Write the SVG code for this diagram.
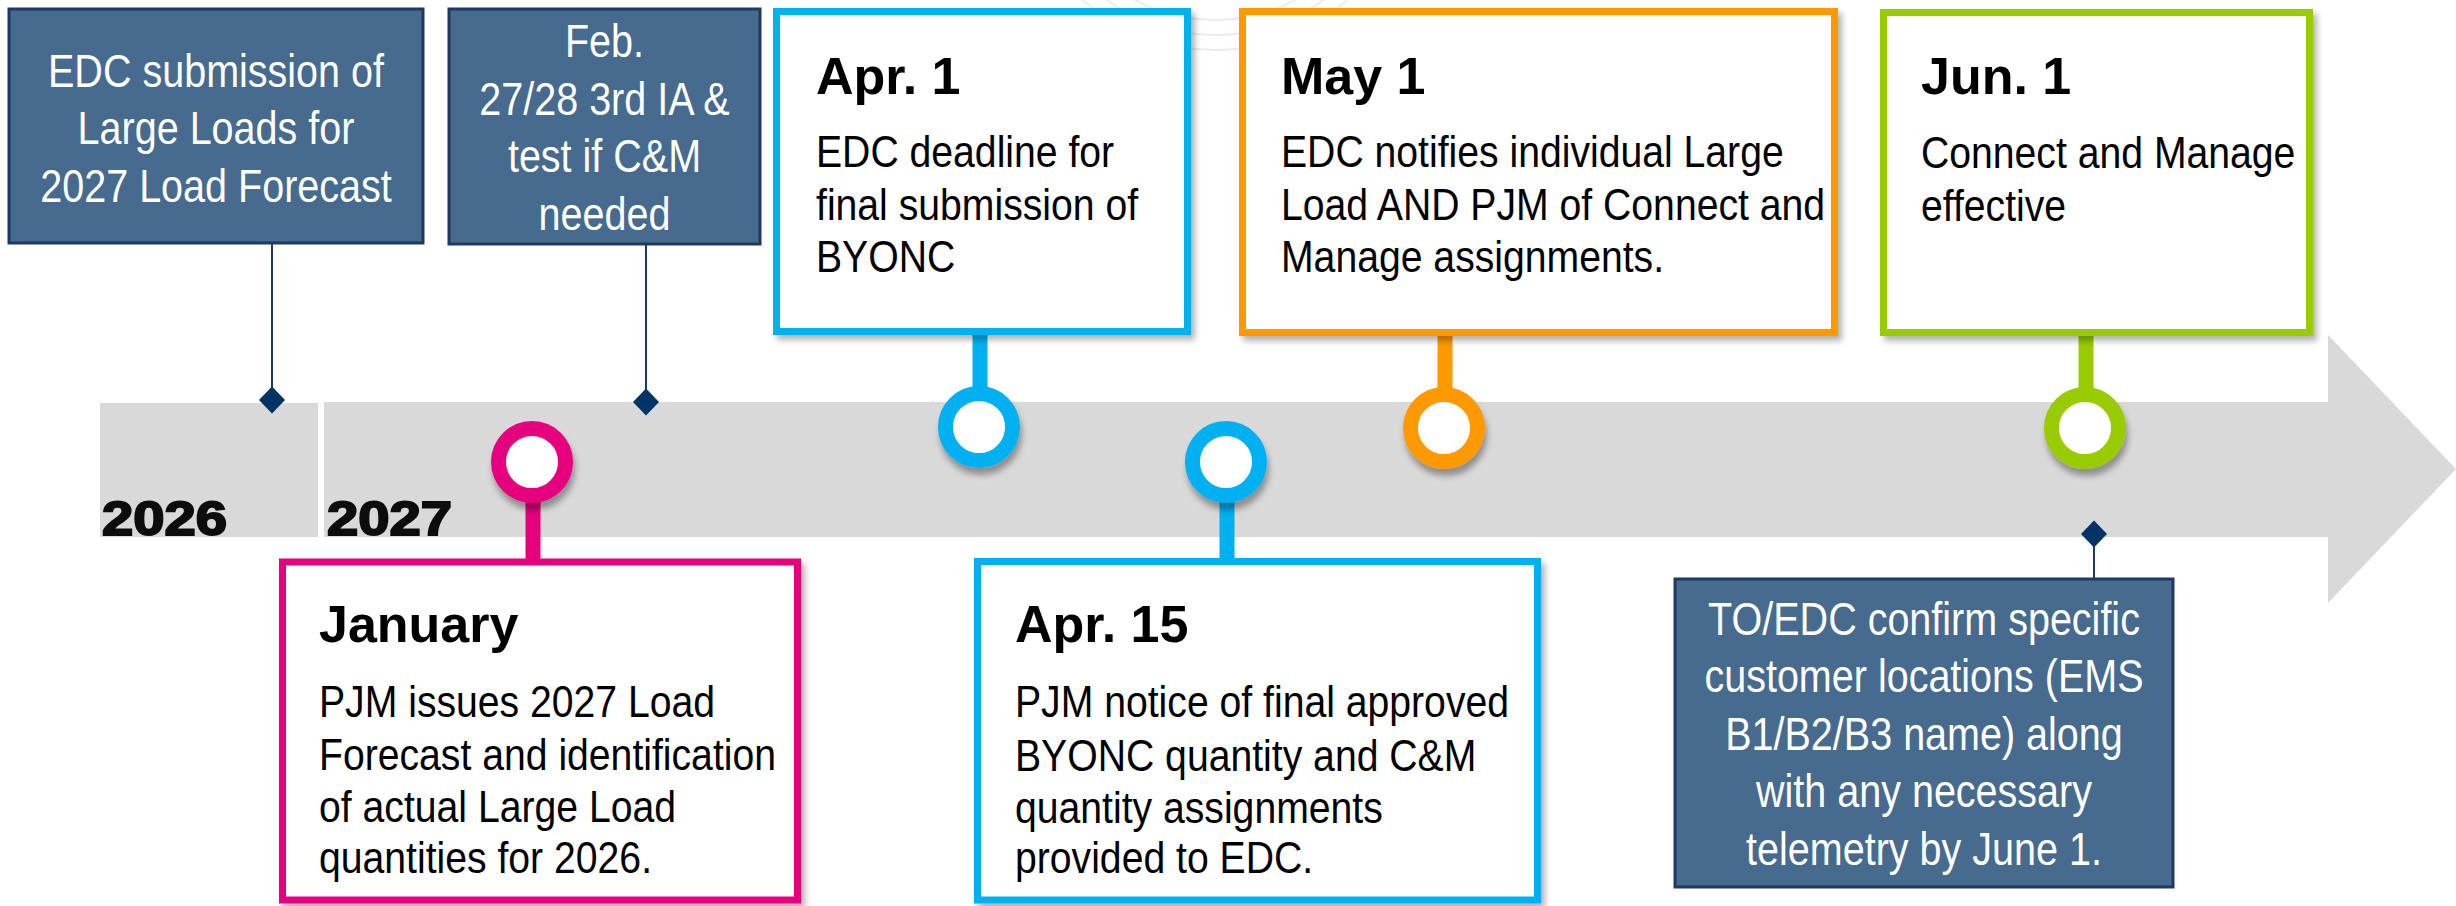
<svg xmlns="http://www.w3.org/2000/svg" width="2456" height="906" viewBox="0 0 2456 906">
<defs>
<style>
.t{font-family:"Liberation Sans",Arial,sans-serif}
.w{font-size:46.5px;fill:#fff;text-anchor:middle}
.b{font-size:44px;fill:#000}
.h{font-size:52px;font-weight:bold;fill:#000}
.yr{font-size:48px;font-weight:bold;fill:#0d0d0d;stroke:#0d0d0d;stroke-width:2}
.navy{fill:#476a8f;stroke:#1f3864;stroke-width:3}
.card{fill:#fff;stroke-width:7;filter:url(#sh)}
.ring{fill:#fff;stroke-width:15;filter:url(#sh2)}
.stem{stroke-width:15;fill:none}
.ln{stroke:#1f3864;stroke-width:2;fill:none}
.dm{fill:#003366}
.wm{fill:none;stroke:#ececec;stroke-width:2}
</style>
<filter id="sh" x="-5%" y="-5%" width="115%" height="115%">
<feDropShadow dx="4" dy="5" stdDeviation="3" flood-color="#000" flood-opacity="0.3"/>
</filter>
<filter id="sh2" x="-30%" y="-30%" width="160%" height="170%">
<feDropShadow dx="2" dy="7" stdDeviation="3" flood-color="#000" flood-opacity="0.35"/>
</filter>
</defs>
<rect width="2456" height="906" fill="#fff"/>
<g id="watermark">
<circle class="wm" cx="1215" cy="-150" r="170"/>
<circle class="wm" cx="1215" cy="-150" r="185"/>
<circle class="wm" cx="1215" cy="-150" r="200"/>
</g>
<g id="timeline">
<rect x="100" y="403" width="218" height="134" fill="#d9d9d9"/>
<polygon points="324,402 2328,402 2328,335 2456,469 2328,603 2328,537 324,537" fill="#d9d9d9"/>
<text class="t yr" x="102" y="535" textLength="125" lengthAdjust="spacingAndGlyphs">2026</text>
<text class="t yr" x="327" y="535" textLength="125" lengthAdjust="spacingAndGlyphs">2027</text>
</g>
<g id="connectors">
<line class="ln" x1="272" y1="243" x2="272" y2="390"/>
<line class="ln" x1="646" y1="244" x2="646" y2="392"/>
<line class="ln" x1="2094" y1="545" x2="2094" y2="579"/>
<polygon class="dm" points="272,386.5 285,400 272,413.5 259,400"/>
<polygon class="dm" points="646,388.5 659,402 646,415.5 633,402"/>
<polygon class="dm" points="2094,520.5 2107,534 2094,547.5 2081,534"/>
<line class="stem" stroke="#00b0f0" x1="980" y1="334" x2="980" y2="396"/>
<line class="stem" stroke="#ff9900" x1="1445" y1="335" x2="1445" y2="396"/>
<line class="stem" stroke="#99cc00" x1="2086" y1="335" x2="2086" y2="396"/>
<line class="stem" stroke="#e6007e" x1="533" y1="494" x2="533" y2="560"/>
<line class="stem" stroke="#00b0f0" x1="1227" y1="494" x2="1227" y2="560"/>
<circle class="ring" stroke="#e6007e" cx="532" cy="462" r="33.5"/>
<circle class="ring" stroke="#00b0f0" cx="979" cy="427" r="33.5"/>
<circle class="ring" stroke="#00b0f0" cx="1226" cy="462" r="33.5"/>
<circle class="ring" stroke="#ff9900" cx="1444" cy="428" r="33.5"/>
<circle class="ring" stroke="#99cc00" cx="2085" cy="428" r="33.5"/>
</g>
<g id="edc-submission">
<rect class="navy" x="9" y="9" width="414" height="234"/>
<text class="t w" transform="translate(216 0) scale(0.85 1)"><tspan x="0" y="87">EDC submission of</tspan><tspan x="0" y="144">Large Loads for</tspan><tspan x="0" y="202">2027 Load Forecast</tspan></text>
</g>
<g id="feb">
<rect class="navy" x="449" y="9" width="311" height="235"/>
<text class="t w" transform="translate(604.5 0) scale(0.85 1)"><tspan x="0" y="57">Feb.</tspan><tspan x="0" y="115">27/28 3rd IA &amp;</tspan><tspan x="0" y="172">test if C&amp;M</tspan><tspan x="0" y="230">needed</tspan></text>
</g>
<g id="apr1">
<rect class="card" stroke="#00b0f0" x="776.5" y="11.5" width="411" height="320"/>
<text class="t h" x="816" y="94">Apr. 1</text>
<text class="t b" transform="translate(816 0) scale(0.89 1)"><tspan x="0" y="167">EDC deadline for</tspan><tspan x="0" y="220">final submission of</tspan><tspan x="0" y="272">BYONC</tspan></text>
</g>
<g id="may1">
<rect class="card" stroke="#ff9900" x="1242.5" y="11.5" width="592" height="321"/>
<text class="t h" x="1281" y="94">May 1</text>
<text class="t b" transform="translate(1281 0) scale(0.89 1)"><tspan x="0" y="167">EDC notifies individual Large</tspan><tspan x="0" y="220">Load AND PJM of Connect and</tspan><tspan x="0" y="272">Manage assignments.</tspan></text>
</g>
<g id="jun1">
<rect class="card" stroke="#99cc00" x="1883.5" y="12.5" width="426" height="320"/>
<text class="t h" x="1921" y="94">Jun. 1</text>
<text class="t b" transform="translate(1921 0) scale(0.89 1)"><tspan x="0" y="168">Connect and Manage</tspan><tspan x="0" y="221">effective</tspan></text>
</g>
<g id="january">
<rect class="card" stroke="#e6007e" x="282.5" y="562" width="515" height="338"/>
<text class="t h" x="319" y="642">January</text>
<text class="t b" transform="translate(319 0) scale(0.89 1)"><tspan x="0" y="717">PJM issues 2027 Load</tspan><tspan x="0" y="770">Forecast and identification</tspan><tspan x="0" y="822">of actual Large Load</tspan><tspan x="0" y="873">quantities for 2026.</tspan></text>
</g>
<g id="apr15">
<rect class="card" stroke="#00b0f0" x="977.5" y="561.5" width="560" height="338.5"/>
<text class="t h" x="1015" y="642">Apr. 15</text>
<text class="t b" transform="translate(1015 0) scale(0.89 1)"><tspan x="0" y="717">PJM notice of final approved</tspan><tspan x="0" y="771">BYONC quantity and C&amp;M</tspan><tspan x="0" y="823">quantity assignments</tspan><tspan x="0" y="873">provided to EDC.</tspan></text>
</g>
<g id="to-edc">
<rect class="navy" x="1675" y="579" width="498" height="308"/>
<text class="t w" transform="translate(1924 0) scale(0.85 1)"><tspan x="0" y="635">TO/EDC confirm specific</tspan><tspan x="0" y="692.5">customer locations (EMS</tspan><tspan x="0" y="750">B1/B2/B3 name) along</tspan><tspan x="0" y="807.5">with any necessary</tspan><tspan x="0" y="865">telemetry by June 1.</tspan></text>
</g>
</svg>
